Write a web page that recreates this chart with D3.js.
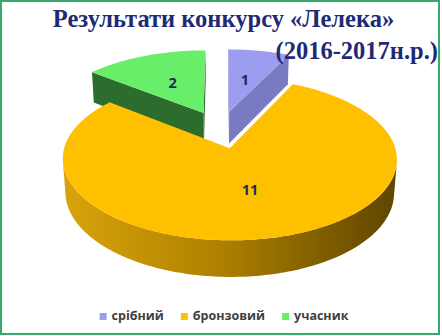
<!DOCTYPE html>
<html>
<head>
<meta charset="utf-8">
<script src="https://cdn.jsdelivr.net/npm/d3@7"></script>
<style>
  body { margin: 0; background: #fff; }
  svg { display: block; }
</style>
</head>
<body>
<script>
// data
var categories = ["срібний", "бронзовий", "учасник"];
var values = [1, 11, 2];
var topColors = ["#9c9cf0", "#ffc000", "#68ee68"];
var sideColors = ["#7a7ac2", "#b08400", "#2c6c2c"];
var titleLines = ["Результати конкурсу «Лелека»", "(2016-2017н.р.)"];

var width = 442,
	height = 336;

// 3d view settings (fitted to the picture)
var cx = 220.5, cy = 129.4,
	F = 1090, D = 6.8,
	sinE = 0.4664, cosE = 0.8846,
	depthH = 0.233,   // thickness of the pie
	explode = 0.25;   // explosion, part of radius

function proj(X, Y, Z) {
	var dep = D - Y * sinE + Z * cosE;
	var up = Y * cosE + Z * sinE;
	return [cx + F * X / dep, cy - F * up / dep];
}

var svg = d3.select("body")
	.append("svg")
	.attr("width", width)
	.attr("height", height);

var defs = svg.append("defs");
var grad = defs.append("linearGradient").attr("id", "wallGrad");
grad.append("stop").attr("offset", "0%").attr("stop-color", "#d8a30c");
grad.append("stop").attr("offset", "45%").attr("stop-color", "#b08300");
grad.append("stop").attr("offset", "80%").attr("stop-color", "#7c5b00");
grad.append("stop").attr("offset", "100%").attr("stop-color", "#5e4500");

svg.append("rect")
	.attr("x", 1).attr("y", 1)
	.attr("width", width - 4).attr("height", height - 3)
	.attr("fill", "#fff")
	.attr("stroke", "#36a96c")
	.attr("stroke-width", 2);

var pie = d3.pie().sort(null).value(function(d) { return d; });
var arcs = pie(values);

var line = d3.line();
var camX = 0, camY = D * sinE, camZ = -D * cosE;

arcs.forEach(function(a, i) {
	var mid = (a.startAngle + a.endAngle) / 2;
	a.ox = explode * Math.sin(mid);
	a.oz = explode * Math.cos(mid);
	a.i = i;
});

// far slices first
var order = arcs.slice().sort(function(a, b) { return b.oz - a.oz; });
var gPie = svg.append("g");

order.forEach(function(a) {
	var g = gPie.append("g");
	var ox = a.ox, oz = a.oz, i = a.i;
	var steps = Math.max(8, Math.ceil((a.endAngle - a.startAngle) / 0.02));
	var angs = d3.range(steps + 1).map(function(k) {
		return a.startAngle + (a.endAngle - a.startAngle) * k / steps;
	});

	// radial faces
	[[a.startAngle, -1], [a.endAngle, 1]].forEach(function(f) {
		var phi = f[0], s = f[1];
		var nx = s * Math.cos(phi), nz = -s * Math.sin(phi);
		var dot = nx * (camX - ox) + nz * (camZ - oz);
		if (dot <= 0) return;
		var rx = ox + Math.sin(phi), rz = oz + Math.cos(phi);
		g.append("path")
			.attr("d", line([proj(ox, 0, oz), proj(rx, 0, rz), proj(rx, -depthH, rz), proj(ox, -depthH, oz)]) + "Z")
			.attr("fill", sideColors[i]);
	});

	// outer wall, only the parts facing us
	var runs = [], cur = null;
	for (var k = 0; k < steps; k++) {
		var tm = (angs[k] + angs[k + 1]) / 2;
		var px = ox + Math.sin(tm), pz = oz + Math.cos(tm);
		var dot = Math.sin(tm) * (camX - px) + Math.cos(tm) * (camZ - pz);
		if (dot > 0) {
			if (!cur) { cur = [angs[k]]; runs.push(cur); }
			cur.push(angs[k + 1]);
		} else {
			cur = null;
		}
	}
	runs.forEach(function(r) {
		var topPts = r.map(function(t) { return proj(ox + Math.sin(t), 0, oz + Math.cos(t)); });
		var botPts = r.slice().reverse().map(function(t) { return proj(ox + Math.sin(t), -depthH, oz + Math.cos(t)); });
		g.append("path")
			.attr("d", line(topPts.concat(botPts)) + "Z")
			.attr("fill", i === 1 ? "url(#wallGrad)" : sideColors[i]);
	});

	// top face
	var pts = [proj(ox, 0, oz)].concat(angs.map(function(t) {
		return proj(ox + Math.sin(t), 0, oz + Math.cos(t));
	}));
	g.append("path")
		.attr("d", line(pts) + "Z")
		.attr("fill", topColors[i]);
});

// value labels
arcs.forEach(function(a) {
	var mid = (a.startAngle + a.endAngle) / 2;
	var p = proj(a.ox + 0.5 * Math.sin(mid), 0, a.oz + 0.5 * Math.cos(mid));
	svg.append("text")
		.attr("x", p[0]).attr("y", p[1])
		.attr("dy", "0.35em")
		.attr("text-anchor", "middle")
		.attr("font-family", "'Open Sans', sans-serif")
		.attr("font-weight", "bold")
		.attr("font-size", 14.5)
		.attr("fill", "#1c2a5e")
		.text(a.data);
});

// title
svg.append("text")
	.attr("x", 223.5).attr("y", 27)
	.attr("text-anchor", "middle")
	.attr("font-family", "'Liberation Serif', serif")
	.attr("font-weight", "bold")
	.attr("font-size", 24.5)
	.attr("fill", "#1f2a74")
	.text(titleLines[0]);
svg.append("text")
	.attr("x", 438).attr("y", 59)
	.attr("text-anchor", "end")
	.attr("font-family", "'Liberation Serif', serif")
	.attr("font-weight", "bold")
	.attr("font-size", 24.5)
	.attr("fill", "#1f2a74")
	.text(titleLines[1]);

// legend
var legend = svg.append("g");
var lx = 0;
categories.forEach(function(c, i) {
	var it = legend.append("g").attr("transform", "translate(" + lx + ",0)");
	it.append("rect")
		.attr("x", 0).attr("y", -7)
		.attr("width", 7).attr("height", 7)
		.attr("fill", topColors[i]);
	var t = it.append("text")
		.attr("x", 12).attr("y", 0)
		.attr("font-family", "'Open Sans', sans-serif")
		.attr("font-weight", "bold")
		.attr("font-size", 12.5)
		.attr("fill", "#404040")
		.text(c);
	lx += 12 + t.node().getComputedTextLength() + 17;
});
lx -= 17;
legend.attr("transform", "translate(" + (224 - lx / 2) + ",320)");
</script>
</body>
</html>
